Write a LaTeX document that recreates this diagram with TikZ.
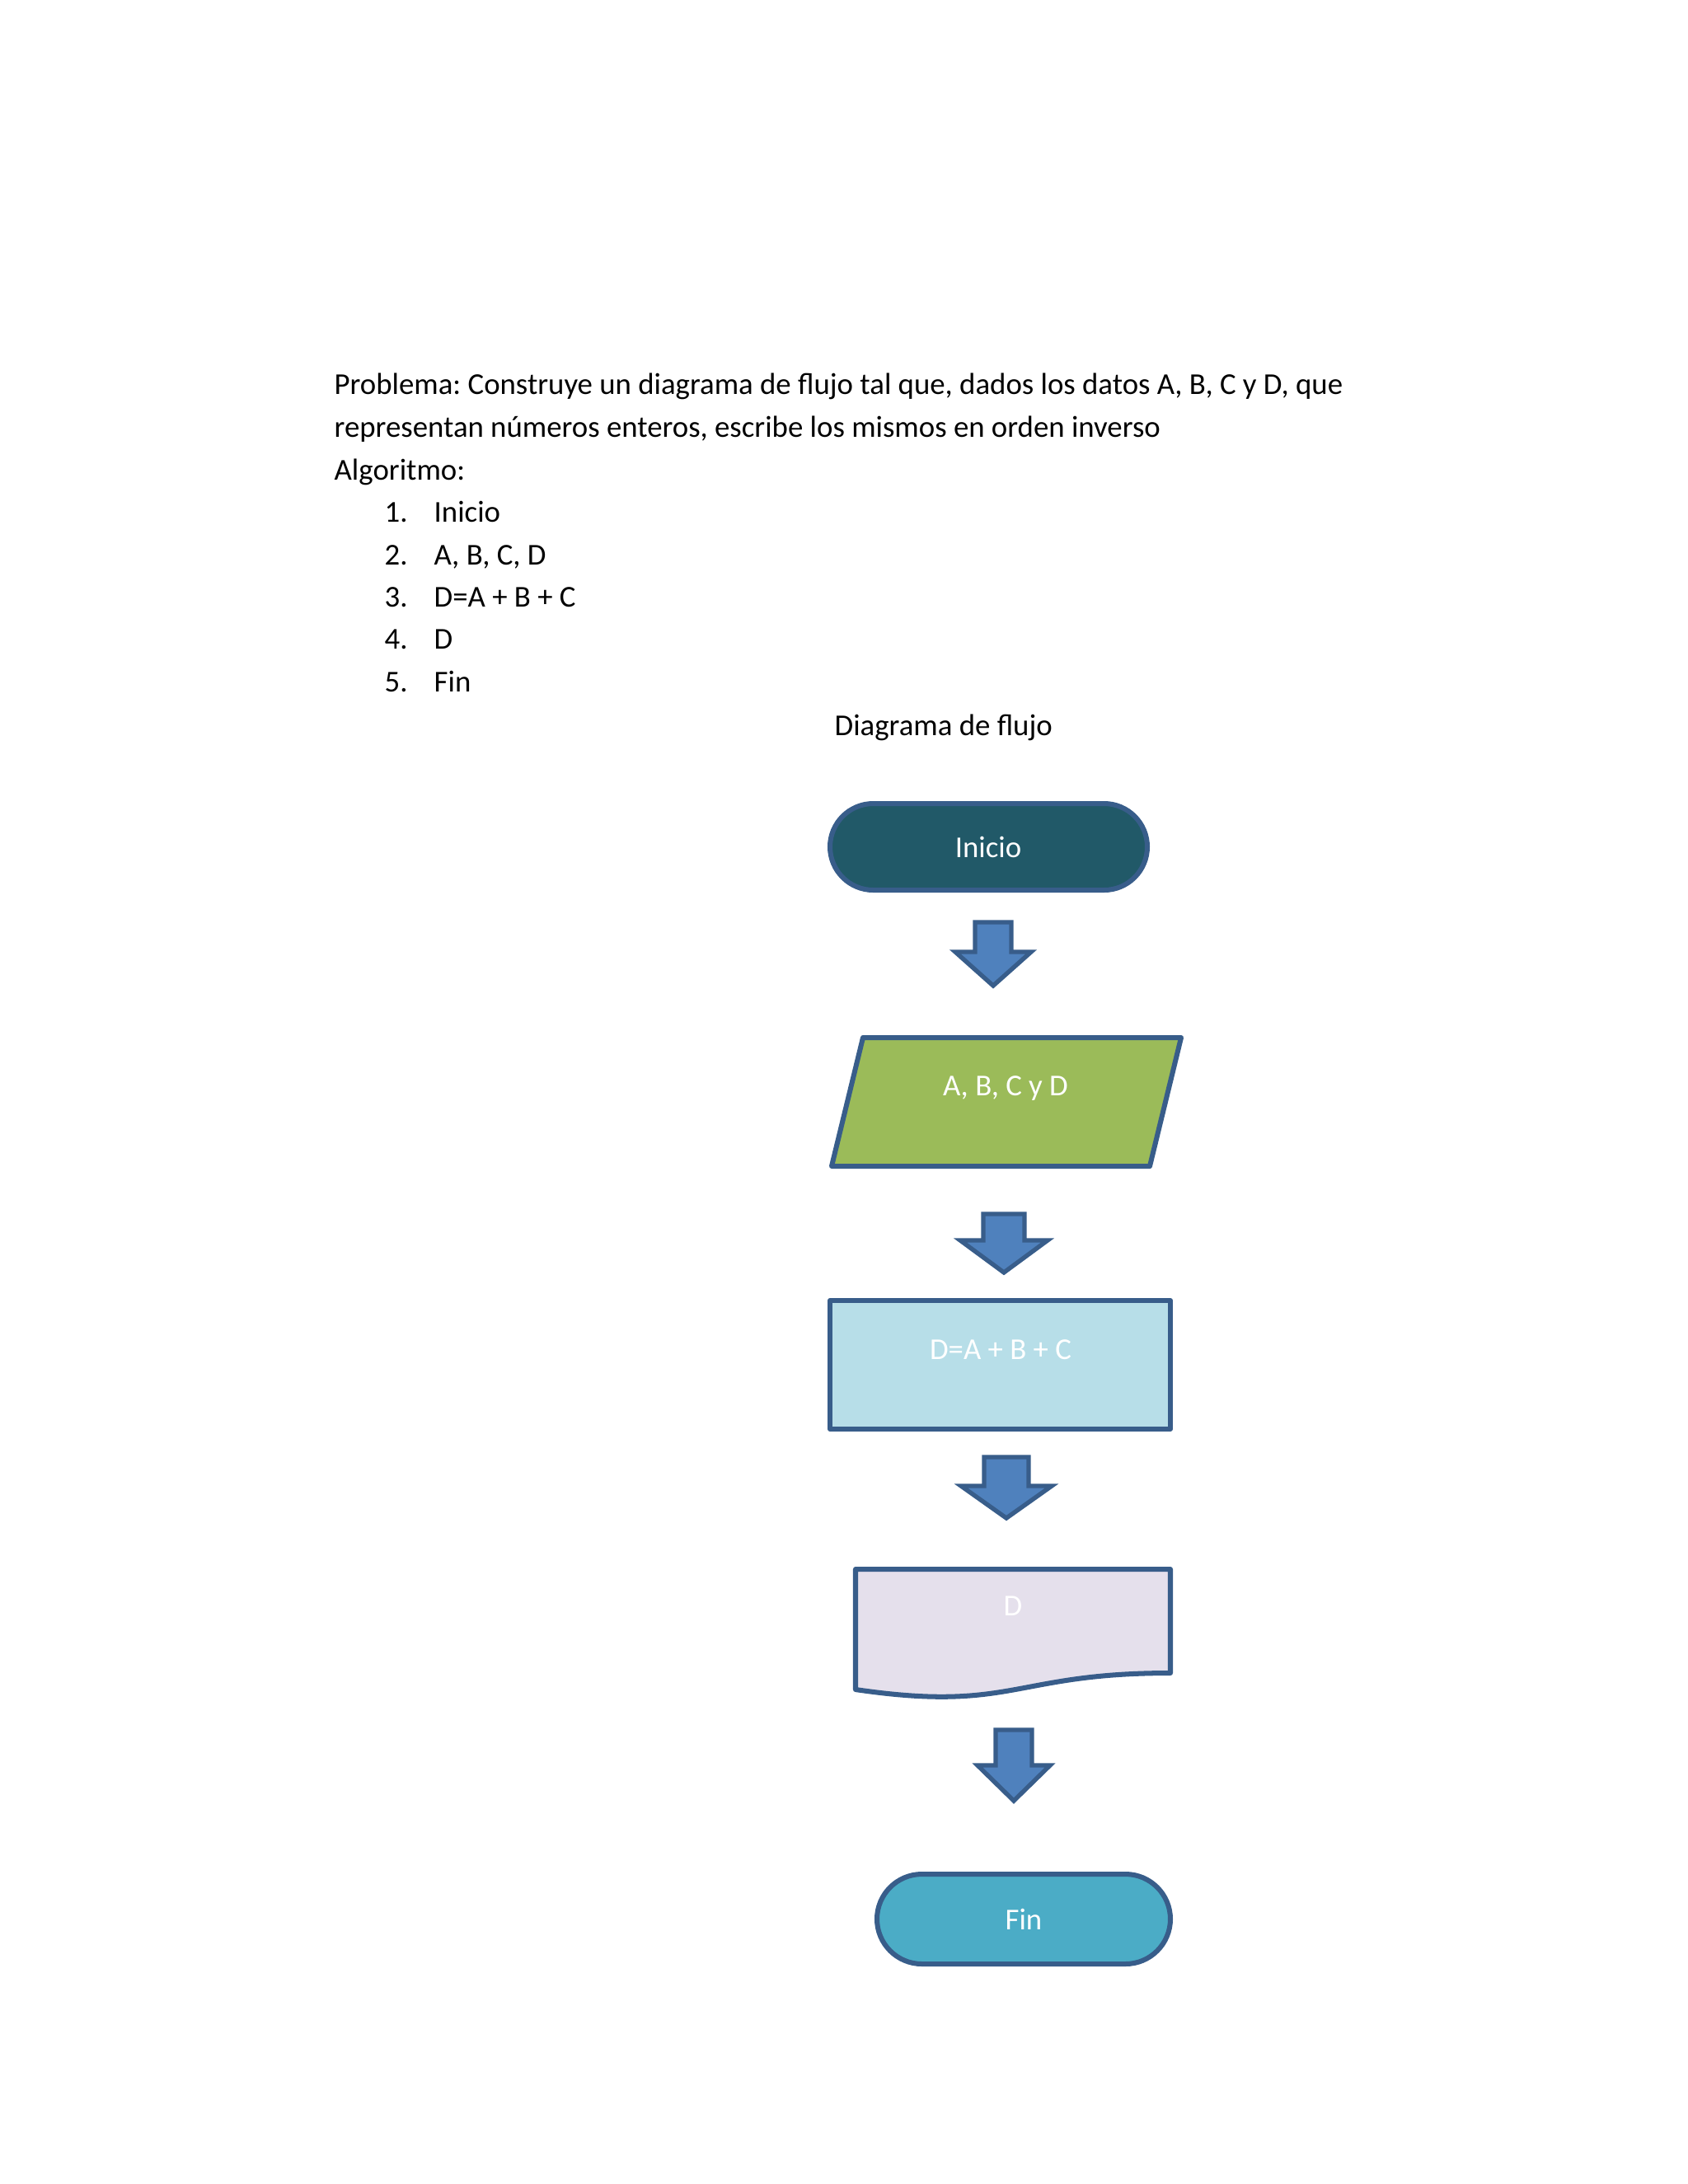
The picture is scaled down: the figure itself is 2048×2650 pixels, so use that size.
\documentclass[tikz,border=0pt]{standalone}
\usepackage{fontspec}
\setmainfont{Carlito}
\frenchspacing
\definecolor{bordc}{HTML}{385D8A}
\definecolor{arrowc}{HTML}{4F81BD}
\definecolor{inicioc}{HTML}{215968}
\definecolor{paraC}{HTML}{9BBB59}
\definecolor{procC}{HTML}{B7DEE8}
\definecolor{docC}{HTML}{E5E0EC}
\definecolor{finC}{HTML}{4BACC6}
\newcommand\blkarrow[7]{% name, cx, top, wing y, tip y, shaft half, head half
  \draw[blockarrow] (#2-#6,#3) -- (#2+#6,#3) -- (#2+#6,#4) -- (#2+#7,#4) -- (#2,#5) -- (#2-#7,#4) -- (#2-#6,#4) -- cycle;
  \coordinate (#1) at (#2,#3);}
\begin{document}
\begin{tikzpicture}[x=0.29883pt,y=-0.29883pt,line join=round,
  shapeline/.style={draw=bordc,line width=1.8pt},
  blockarrow/.style={draw=bordc,fill=arrowc,line width=1.6pt,line join=miter},
  txt/.style={font=\fontsize{11}{13}\selectfont,anchor=base west,inner sep=0pt},
  intxt/.style={font=\fontsize{11}{13}\selectfont,text=white,inner sep=0pt}]
\useasboundingbox[fill=white] (0,0) rectangle (2048,2650);
% text
\node[txt] (p1) at (405,478) {Problema: Construye un diagrama de flujo tal que, dados los datos A, B, C y D, que};
\node[txt] (p2) at (405,530) {representan números enteros, escribe los mismos en orden inverso};
\node[txt] (p3) at (405,582) {Algoritmo:};
\node[txt] (n1) at (466,633) {1.}; \node[txt] (i1) at (526,633) {Inicio};
\node[txt] (n2) at (466,685) {2.}; \node[txt] (i2) at (526,685) {A, B, C, D};
\node[txt] (n3) at (466,736) {3.}; \node[txt] (i3) at (526,736) {D=A + B + C};
\node[txt] (n4) at (466,787) {4.}; \node[txt] (i4) at (526,787) {D};
\node[txt] (n5) at (466,839) {5.}; \node[txt] (i5) at (526,839) {Fin};
\node[txt] (titulo) at (1012,892) {Diagrama de flujo};
% Inicio
\draw[shapeline,fill=inicioc,rounded corners=15.7pt] (1007,975) rectangle (1392,1080);
\node[intxt] (inicio) at (1199,1028) {Inicio};
\blkarrow{a1}{1205}{1119}{1155}{1196}{22}{46}
% parallelogram
\draw[shapeline,fill=paraC] (1047,1259) -- (1433,1259) -- (1395,1415) -- (1009,1415) -- cycle;
\node[intxt] (datos) at (1220,1320) {A, B, C y D};
\blkarrow{a2}{1218}{1473}{1505}{1544}{25}{53}
% process
\draw[shapeline,fill=procC] (1007,1578) rectangle (1420,1734);
\node[intxt] (proc) at (1214,1638) {D=A + B + C};
\blkarrow{a3}{1221}{1768}{1803}{1842}{27}{55}
% document
\draw[shapeline,fill=docC] (1038,1904) -- (1420,1904) -- (1420,2030) .. controls (1229,2030) and (1229,2078) .. (1038,2050) -- cycle;
\node[intxt] (doc) at (1229,1949) {D};
\blkarrow{a4}{1230}{2099}{2142}{2185}{22}{44}
% Fin
\draw[shapeline,fill=finC,rounded corners=16.3pt] (1064,2274) rectangle (1420,2383);
\node[intxt] (fin) at (1242,2329) {Fin};
\end{tikzpicture}
\end{document}
